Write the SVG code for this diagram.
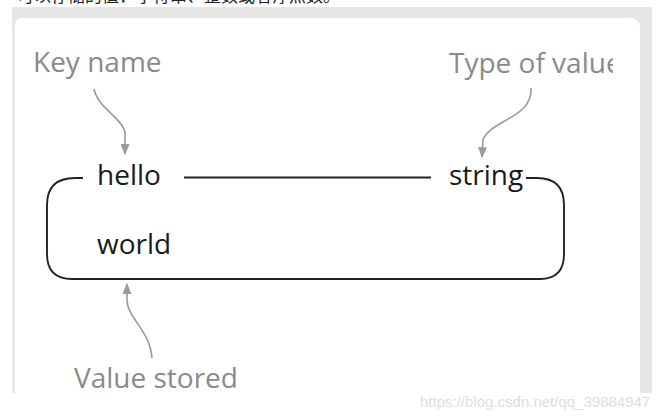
<svg xmlns="http://www.w3.org/2000/svg" width="671" height="418" viewBox="0 0 671 418">
  <defs>
    <style>
      .lbl { font-family: "Open Sans", "Noto Sans", sans-serif; font-size: 28px; fill: #8a8a8a; }
      .txt { font-family: "Open Sans", "Noto Sans", sans-serif; font-size: 28px; fill: #1a1a1a; }
      .arr { fill: none; stroke: #9a9a9a; stroke-width: 1.6; marker-end: url(#ah); }
      .box { fill: none; stroke: #222; stroke-width: 1.9; }
    </style>
    <marker id="ah" viewBox="0 0 10 10" refX="9" refY="5" markerWidth="11" markerHeight="9" markerUnits="userSpaceOnUse" orient="auto" preserveAspectRatio="none">
      <path d="M0,0 L10,5 L0,10 z" fill="#9a9a9a"/>
    </marker>
    <clipPath id="clipType">
      <rect x="400" y="40" width="213" height="50"/>
    </clipPath>
  </defs>
  <rect width="671" height="418" fill="#ffffff"/>
  <text x="17" y="2" font-family="'Noto Sans CJK SC', sans-serif" font-size="17" fill="#222">可以存储的值：字符串、整数或者浮点数。</text>
  <rect x="12" y="7" width="640" height="386" fill="#e6e6e4"/>
  <path d="M15 393 V26 Q15 18 23 18 H630 Q640 18 640 28 V393 Z" fill="#ffffff"/>

  <g id="key-name">
    <text class="lbl" x="33" y="72">Key name</text>
  </g>
  <g id="type-of-value" clip-path="url(#clipType)">
    <text class="lbl" x="449" y="73">Type of value</text>
  </g>
  <g id="value-stored">
    <text class="lbl" x="74" y="388">Value stored</text>
  </g>
  <g id="hello">
    <text class="txt" x="97" y="185">hello</text>
  </g>
  <g id="string">
    <text class="txt" x="449" y="185">string</text>
  </g>
  <g id="world">
    <text class="txt" x="97" y="254">world</text>
  </g>

  <g id="connectors">
    <path class="box" d="M83 178 H75 Q47 178 47 205 V254 Q47 279 72 279 H540 Q564 279 564 254 V205 Q564 178 537 178 H526"/>
    <path class="box" d="M184 177.5 H431"/>
    <path class="arr" d="M94 89 C98 108 122 118 125 132 L125 154"/>
    <path class="arr" d="M531 88 C533 118 490 120 483 140 L482 157"/>
    <path class="arr" d="M152 358 C150 330 127 318 127 300 L127 284"/>
  </g>

  <text x="420" y="407" font-family="'Liberation Sans', Arial, sans-serif" font-size="15" fill="#dedede">https://blog.csdn.net/qq_39884947</text>
</svg>
